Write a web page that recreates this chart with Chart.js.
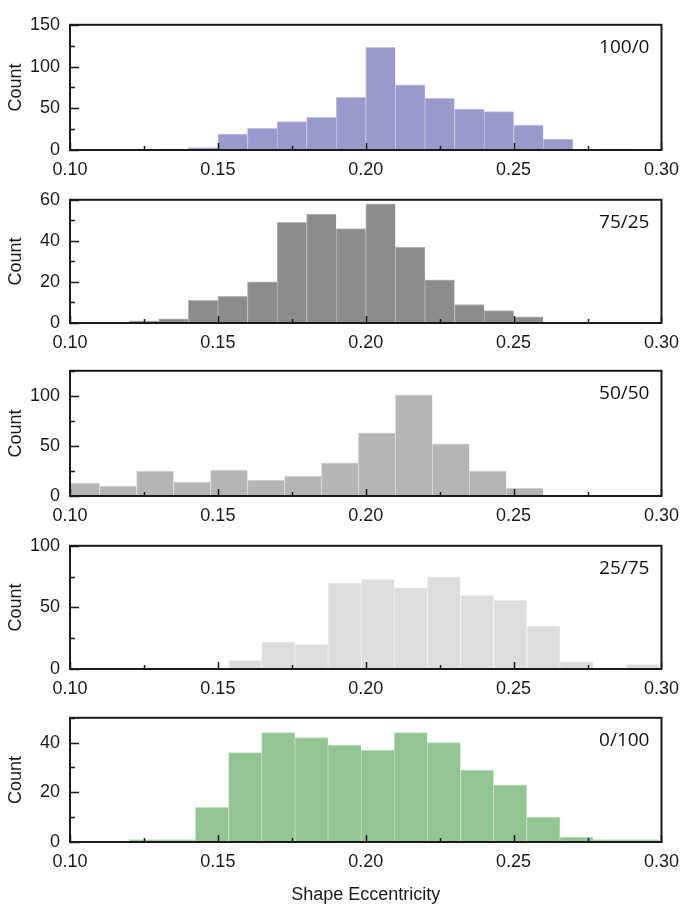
<!DOCTYPE html>
<html>
<head>
<meta charset="utf-8">
<script src="https://cdn.jsdelivr.net/npm/chart.js@4/dist/chart.umd.min.js"></script>
<style>
  body { margin: 0; background: #fff; }
  #wrap { position: relative; width: 688px; height: 913px; }
  canvas { position: absolute; left: 0; }
</style>
</head>
<body>
<div id="wrap"></div>
<script>
// bin centres (shape eccentricity) and counts, one pair per blend ratio
const bins100 = [0.135, 0.145, 0.155, 0.165, 0.175, 0.185, 0.195, 0.205, 0.215, 0.225, 0.235, 0.245, 0.255, 0.265, 0.275, 0.285];
const counts100 = [1, 3, 19, 26, 34, 39, 63, 123, 78, 62, 49, 46, 30, 13, 0, 1];

const bins75 = [0.125, 0.135, 0.145, 0.155, 0.165, 0.175, 0.185, 0.195, 0.205, 0.215, 0.225, 0.235, 0.245, 0.255];
const counts75 = [1, 2, 11, 13, 20, 49, 53, 46, 58, 37, 21, 9, 6, 3];

const bins50 = [0.10375, 0.11625, 0.12875, 0.14125, 0.15375, 0.16625, 0.17875, 0.19125, 0.20375, 0.21625, 0.22875, 0.24125, 0.25375];
const counts50 = [13, 10, 25, 14, 26, 16, 20, 33, 63, 101, 52, 25, 8];

const bins25 = [0.1480, 0.1592, 0.1704, 0.1816, 0.1928, 0.2040, 0.2152, 0.2264, 0.2376, 0.2488, 0.2600, 0.2712, 0.2824, 0.2936];
const counts25 = [1, 7, 22, 20, 70, 73, 66, 75, 60, 56, 35, 6, 1, 4];

const bins0 = [0.1256, 0.1368, 0.1480, 0.1592, 0.1704, 0.1816, 0.1928, 0.2040, 0.2152, 0.2264, 0.2376, 0.2488, 0.2600, 0.2712, 0.2824, 0.2936];
const counts0 = [1, 1, 14, 36, 44, 42, 39, 37, 44, 40, 29, 23, 10, 2, 1, 1];

const ratioLabels = ['100/0', '75/25', '50/50', '25/75', '0/100'];
const yMax = [150, 60, 125, 100, 50];
const yStep = [50, 20, 50, 50, 20];
const xTicks = [0.10, 0.15, 0.20, 0.25, 0.30];

const panels = [
  { bins: bins100, counts: counts100, fill: '#9999cc', edge: '#c4c4e2', top: 16, bottom: 150 },
  { bins: bins75, counts: counts75, fill: '#8c8c8c', edge: '#b8b8b8', top: 191, bottom: 323 },
  { bins: bins50, counts: counts50, fill: '#b5b5b5', edge: '#d8d8d8', top: 362, bottom: 496 },
  { bins: bins25, counts: counts25, fill: '#dddddd', edge: '#f2f2f2', top: 537, bottom: 669 },
  { bins: bins0, counts: counts0, fill: '#93c493', edge: '#c0e0c0', top: 709, bottom: 842 }
];

const tickFont = { family: '"Liberation Sans", Arial, sans-serif', size: 18 };
const ink = '#1a1a1a';
const PAD_T = 12;

// box, inward ticks (major + minor) and the ratio label
const framePlugin = {
  id: 'frame',
  afterDatasetsDraw(chart, args, opts) {
    const ctx = chart.ctx;
    const a = chart.chartArea;
    const xs = chart.scales.x, ys = chart.scales.y;
    ctx.save();
    ctx.strokeStyle = ink;
    ctx.lineWidth = 1.5;
    ctx.beginPath();
    for (let v = 0.10; v <= 0.3001; v += 0.025) {
      const px = Math.round(xs.getPixelForValue(v)) + 0.5;
      const major = Math.abs(v / 0.05 - Math.round(v / 0.05)) < 1e-6;
      ctx.moveTo(px, a.bottom);
      ctx.lineTo(px, a.bottom - (major ? 7 : 4));
    }
    const half = opts.step / 2;
    for (let v = 0; v <= ys.max + 1e-6; v += half) {
      const py = Math.round(ys.getPixelForValue(v)) + 0.5;
      const major = Math.abs(v / opts.step - Math.round(v / opts.step)) < 1e-6;
      ctx.moveTo(a.left, py);
      ctx.lineTo(a.left + (major ? 9 : 5), py);
    }
    ctx.stroke();
    ctx.lineWidth = 2;
    ctx.strokeRect(a.left, a.top, a.right - a.left, a.bottom - a.top);
    ctx.fillStyle = '#111';
    ctx.font = '19px "Open Sans", sans-serif';
    ctx.textAlign = 'right';
    ctx.textBaseline = 'alphabetic';
    ctx.fillText(opts.label, a.right - 12, a.top + 28.5);
    ctx.restore();
  }
};

const wrap = document.getElementById('wrap');

panels.forEach((p, i) => {
  const last = i === panels.length - 1;
  const axisH = last ? 64 : 30;
  const cv = document.createElement('canvas');
  cv.width = 688;
  cv.height = PAD_T + (p.bottom - p.top) + axisH;
  cv.style.top = (p.top - PAD_T) + 'px';
  wrap.appendChild(cv);

  new Chart(cv, {
    type: 'bar',
    data: {
      datasets: [{
        data: p.bins.map((x, k) => ({ x: x, y: p.counts[k] })),
        backgroundColor: p.fill,
        borderColor: p.edge,
        borderWidth: { top: 1, left: 1, right: 0, bottom: 0 },
        borderSkipped: false,
        categoryPercentage: 1,
        barPercentage: 1,
        clip: 0
      }]
    },
    options: {
      responsive: false,
      animation: false,
      devicePixelRatio: 1,
      layout: { padding: { top: PAD_T, right: 22, left: 0, bottom: 0 } },
      plugins: {
        legend: { display: false },
        tooltip: { enabled: false },
        frame: { label: ratioLabels[i], step: yStep[i] }
      },
      scales: {
        x: {
          type: 'linear',
          min: xTicks[0],
          max: xTicks[xTicks.length - 1],
          offset: false,
          grid: { display: false, drawTicks: false },
          border: { display: false },
          afterBuildTicks: s => { s.ticks = xTicks.map(v => ({ value: v })); },
          ticks: {
            padding: 9,
            font: tickFont,
            color: ink,
            maxRotation: 0,
            autoSkip: false,
            callback: v => Number(v).toFixed(2)
          },
          title: {
            display: last,
            text: 'Shape Eccentricity',
            font: tickFont,
            color: ink,
            padding: { top: 0, bottom: 0 }
          },
          afterFit: s => { s.height = axisH; }
        },
        y: {
          min: 0,
          max: yMax[i],
          grid: { display: false, drawTicks: false },
          border: { display: false },
          ticks: {
            stepSize: yStep[i],
            includeBounds: false,
            padding: 10,
            font: tickFont,
            color: ink
          },
          title: {
            display: true,
            text: 'Count',
            font: tickFont,
            color: ink,
            padding: { top: 5, bottom: 0 }
          },
          afterFit: s => { s.width = 70; }
        }
      }
    },
    plugins: [framePlugin]
  });
});
</script>
</body>
</html>
